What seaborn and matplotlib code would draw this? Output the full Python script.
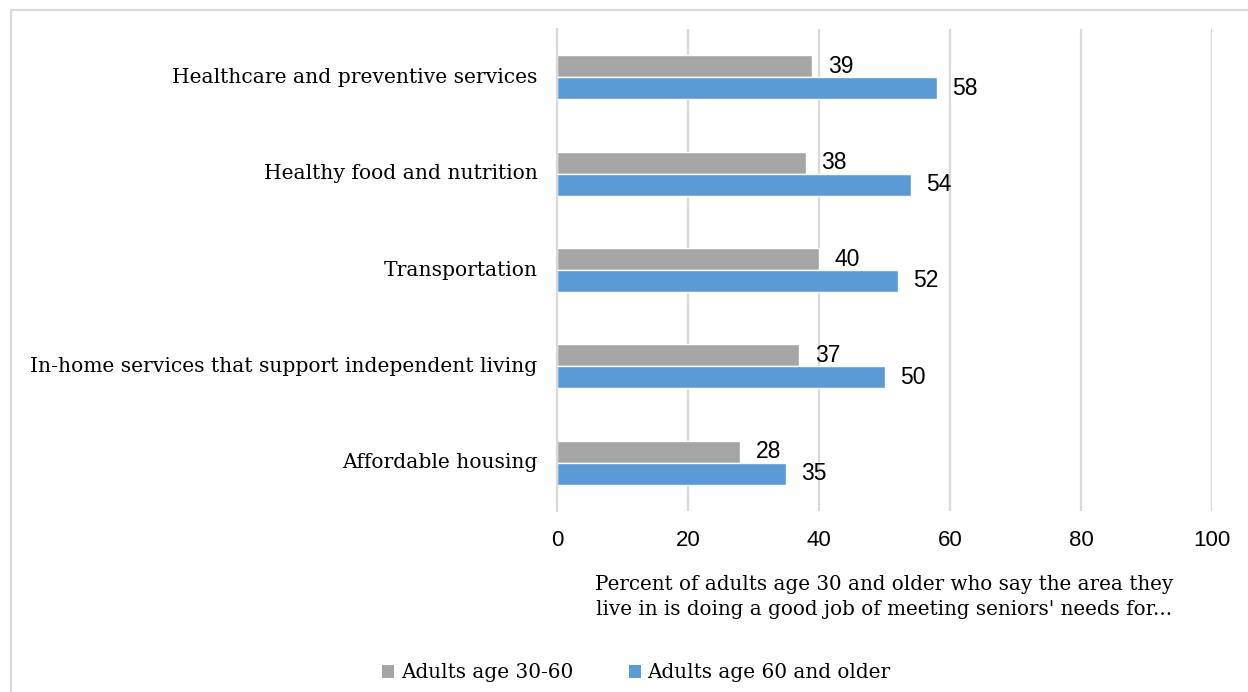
import matplotlib
matplotlib.use("Agg")
import matplotlib.pyplot as plt
import matplotlib.transforms as mtransforms
import seaborn as sns
import pandas as pd
from matplotlib.lines import Line2D
from matplotlib.patches import Patch

categories = [
    "Healthcare and preventive services",
    "Healthy food and nutrition",
    "Transportation",
    "In-home services that support independent living",
    "Affordable housing",
]
series_names = ["Adults age 30-60", "Adults age 60 and older"]
values_30_60 = [39, 38, 40, 37, 28]
values_60_plus = [58, 54, 52, 50, 35]
x_ticks = [0, 20, 40, 60, 80, 100]

colors = ["#A5A5A5", "#5B9BD5"]
grid_color = "#D9D9D9"

df = pd.DataFrame({
    "category": categories * 2,
    "group": [series_names[0]] * len(categories) + [series_names[1]] * len(categories),
    "value": values_30_60 + values_60_plus,
})

sns.set_theme(style="white")
plt.rcParams["text.color"] = "#000000"
serif = ["DejaVu Serif"]
narrow = ["Liberation Sans Narrow", "Liberation Sans", "DejaVu Sans"]

fig = plt.figure(figsize=(12.48, 6.92), dpi=100)
ax = fig.add_axes([557 / 1248, 1 - 511 / 692, (1212 - 557) / 1248, 482 / 692])

sns.barplot(data=df, y="category", x="value", hue="group", order=categories,
            hue_order=series_names, palette=colors, width=0.456,
            orient="h", ax=ax, legend=False, saturation=1)

ax.set_xlim(0, 100)
ax.set_xticks(x_ticks)
ax.set_xticklabels([str(t) for t in x_ticks], family=narrow, fontsize=16, color="#000000")
ax.tick_params(axis="x", length=0, pad=14)
ax.tick_params(axis="y", length=0, pad=14)
lift = mtransforms.ScaledTranslation(0, 2 / 100, fig.dpi_scale_trans)
for lbl in ax.get_yticklabels():
    lbl.set_family(serif)
    lbl.set_fontsize(14.6)
    lbl.set_color("#000000")
    lbl.set_transform(lbl.get_transform() + lift)

ax.xaxis.grid(True, color=grid_color, linewidth=1.6)
ax.set_axisbelow(True)
for side in ["top", "right", "bottom"]:
    ax.spines[side].set_visible(False)
ax.spines["left"].set_color(grid_color)
ax.spines["left"].set_linewidth(1.6)

ax.set_ylabel("")
ax.set_xlabel("Percent of adults age 30 and older who say the area they\n"
              "live in is doing a good job of meeting seniors' needs for...",
              family=serif, fontsize=14.3, color="#000000", labelpad=17,
              linespacing=1.4)

for container in ax.containers:
    ax.bar_label(container, labels=[f"{v:g}" for v in container.datavalues],
                 padding=11, family=narrow, fontsize=16.5, color="#000000")

# legend along the bottom of the figure
handles = [Patch(facecolor=c, edgecolor="none") for c in colors]
fig.legend(handles, series_names, loc="center", bbox_to_anchor=(0.51, 1 - 673 / 692),
           ncol=2, frameon=False, prop={"family": serif, "size": 14.4},
           labelcolor="#000000",
           handlelength=0.6, handleheight=0.6, handletextpad=0.35, columnspacing=2.75)

# chart frame lines (top and left)
fig.add_artist(Line2D([11 / 1248, 11 / 1248], [0, 1 - 10 / 692], transform=fig.transFigure,
                      color=grid_color, linewidth=1.6))
fig.add_artist(Line2D([11 / 1248, 1], [1 - 10 / 692, 1 - 10 / 692], transform=fig.transFigure,
                      color=grid_color, linewidth=1.6))

fig.savefig("out.png", dpi=100, facecolor="white")
